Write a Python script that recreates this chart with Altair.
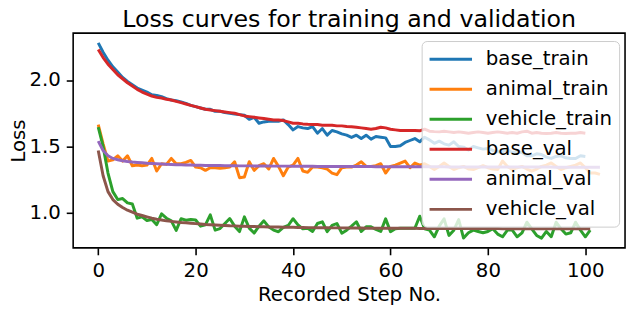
import altair as alt
import pandas as pd

series_names = ["base_train", "animal_train", "vehicle_train", "base_val", "animal_val", "vehicle_val"]
series_colors = ["#1f77b4", "#ff7f0e", "#2ca02c", "#d62728", "#9467bd", "#8c564b"]
x_ticks = [0, 20, 40, 60, 80, 100]
y_ticks = [1.0, 1.5, 2.0]

base_train = [
    2.28, 2.21, 2.15, 2.10, 2.06, 2.02, 1.99, 1.965, 1.94, 1.925,
    1.91, 1.89, 1.885, 1.875, 1.86, 1.85, 1.845, 1.835, 1.825, 1.81,
    1.80, 1.79, 1.78, 1.78, 1.765, 1.765, 1.755, 1.75, 1.745, 1.74,
    1.735, 1.705, 1.72, 1.675, 1.685, 1.69, 1.69, 1.69, 1.70, 1.665,
    1.625, 1.65, 1.64, 1.635, 1.65, 1.60, 1.635, 1.585, 1.62, 1.61,
    1.595, 1.585, 1.568, 1.585, 1.56, 1.585, 1.555, 1.575, 1.57, 1.565,
    1.50, 1.50, 1.505, 1.53, 1.545, 1.56, 1.535, 1.57, 1.55, 1.524,
    1.54, 1.52, 1.51, 1.535, 1.50, 1.495, 1.474, 1.50, 1.49, 1.48,
    1.485, 1.47, 1.46, 1.46, 1.475, 1.455, 1.46, 1.455, 1.43, 1.43,
    1.445, 1.44, 1.42, 1.41, 1.425, 1.43, 1.415, 1.41, 1.41, 1.43,
    1.425,
]

animal_train = [
    1.665, 1.52, 1.39, 1.40, 1.43, 1.39, 1.43, 1.355, 1.36, 1.355,
    1.36, 1.41, 1.315, 1.37, 1.365, 1.41, 1.37, 1.37, 1.38, 1.395,
    1.345, 1.34, 1.32, 1.34, 1.34, 1.335, 1.34, 1.345, 1.385, 1.265,
    1.27, 1.385, 1.32, 1.355, 1.37, 1.33, 1.41, 1.35, 1.28, 1.345,
    1.36, 1.41, 1.315, 1.305, 1.345, 1.345, 1.34, 1.33, 1.30, 1.288,
    1.34, 1.345, 1.345, 1.36, 1.385, 1.35, 1.35, 1.355, 1.37, 1.30,
    1.35, 1.36, 1.375, 1.39, 1.34, 1.375, 1.36, 1.37, 1.35, 1.326,
    1.35, 1.376, 1.35, 1.326, 1.34, 1.35, 1.33, 1.326, 1.34, 1.355,
    1.34, 1.33, 1.326, 1.39, 1.35, 1.326, 1.34, 1.35, 1.33, 1.314,
    1.33, 1.35, 1.36, 1.376, 1.35, 1.326, 1.34, 1.35, 1.36, 1.376,
    1.34, 1.30, 1.30, 1.29,
]

vehicle_train = [
    1.645, 1.50, 1.30, 1.16, 1.10, 1.108, 1.075, 1.067, 0.96, 0.97,
    0.943, 0.95, 0.911, 0.993, 0.96, 0.94, 0.868, 0.956, 0.945, 0.95,
    0.946, 0.90, 0.91, 0.985, 0.87, 0.882, 0.92, 0.958, 0.90, 0.859,
    0.97, 0.885, 0.848, 0.90, 0.94, 0.895, 0.87, 0.858, 0.89, 0.905,
    0.956, 0.91, 0.88, 0.884, 0.86, 0.92, 0.933, 0.859, 0.905, 0.92,
    0.847, 0.87, 0.90, 0.933, 0.86, 0.895, 0.895, 0.875, 0.86, 0.955,
    0.859, 0.88, 0.884, 0.884, 0.885, 0.884, 0.975, 0.88, 0.87, 0.82,
    0.90, 0.955, 0.83, 0.87, 0.95, 0.81, 0.85, 0.87, 0.86, 0.85,
    0.86, 0.88, 0.84, 0.82, 0.87, 0.87, 0.82, 0.85, 0.93, 0.88,
    0.83, 0.81, 0.86, 0.82, 0.93, 0.88, 0.84, 0.85, 0.93, 0.87,
    0.82, 0.87,
]

base_val = [
    2.23, 2.17, 2.12, 2.08, 2.04, 2.01, 1.98, 1.955, 1.93, 1.91,
    1.895, 1.88, 1.87, 1.865, 1.855, 1.85, 1.84, 1.83, 1.82, 1.81,
    1.80, 1.79, 1.78, 1.775, 1.77, 1.765, 1.76, 1.755, 1.75, 1.74,
    1.73, 1.725, 1.72, 1.715, 1.71, 1.705, 1.70, 1.70, 1.695, 1.685,
    1.675, 1.675, 1.67, 1.667, 1.665, 1.665, 1.66, 1.66, 1.66, 1.655,
    1.655, 1.65, 1.648, 1.645, 1.64, 1.635, 1.63, 1.635, 1.645, 1.64,
    1.63, 1.625, 1.62, 1.62, 1.62, 1.62, 1.618, 1.63, 1.615, 1.612,
    1.61, 1.615, 1.61, 1.605, 1.61, 1.605, 1.60, 1.605, 1.61, 1.605,
    1.60, 1.605, 1.61, 1.605, 1.60, 1.605, 1.60, 1.61, 1.615, 1.60,
    1.605, 1.60, 1.598, 1.60, 1.605, 1.60, 1.598, 1.60, 1.60, 1.605,
    1.60,
]

animal_val = [
    1.54, 1.47, 1.43, 1.41, 1.40, 1.393, 1.387, 1.383, 1.38, 1.377,
    1.374, 1.372, 1.37, 1.368, 1.366, 1.365, 1.363, 1.362, 1.361, 1.36,
    1.359, 1.358, 1.357, 1.357, 1.356, 1.356, 1.355, 1.355, 1.355, 1.354,
    1.354, 1.354, 1.353, 1.353, 1.353, 1.353, 1.352, 1.352, 1.352, 1.352,
    1.351, 1.351, 1.351, 1.351, 1.351, 1.350, 1.350, 1.350, 1.350, 1.350,
    1.350, 1.349, 1.349, 1.349, 1.349, 1.349, 1.349, 1.348, 1.348, 1.348,
    1.348, 1.348, 1.348, 1.348, 1.347, 1.347, 1.347, 1.347, 1.347, 1.347,
    1.347, 1.347, 1.346, 1.346, 1.346, 1.346, 1.346, 1.346, 1.346, 1.346,
    1.346, 1.346, 1.345, 1.345, 1.345, 1.345, 1.345, 1.345, 1.345, 1.345,
    1.345, 1.345, 1.345, 1.345, 1.344, 1.344, 1.344, 1.344, 1.344, 1.344,
    1.344, 1.344, 1.344, 1.344,
]

vehicle_val = [
    1.47, 1.28, 1.16, 1.10, 1.065, 1.04, 1.02, 1.005, 0.99, 0.98,
    0.97, 0.96, 0.952, 0.946, 0.94, 0.936, 0.932, 0.928, 0.925, 0.922,
    0.919, 0.916, 0.913, 0.911, 0.909, 0.907, 0.905, 0.903, 0.902, 0.90,
    0.899, 0.898, 0.897, 0.896, 0.895, 0.894, 0.893, 0.893, 0.892, 0.891,
    0.891, 0.890, 0.890, 0.889, 0.889, 0.888, 0.888, 0.888, 0.887, 0.887,
    0.887, 0.886, 0.886, 0.886, 0.886, 0.885, 0.885, 0.885, 0.885, 0.885,
    0.884, 0.884, 0.884, 0.884, 0.884, 0.884, 0.883, 0.883, 0.883, 0.883,
    0.883, 0.883, 0.883, 0.882, 0.882, 0.882, 0.882, 0.882, 0.882, 0.882,
    0.882, 0.882, 0.882, 0.881, 0.881, 0.881, 0.881, 0.881, 0.881, 0.881,
    0.881, 0.881, 0.881, 0.881, 0.881, 0.881, 0.88, 0.88, 0.88, 0.88,
    0.88, 0.88,
]

all_series = [base_train, animal_train, vehicle_train, base_val, animal_val, vehicle_val]

rows = []
for name, vals in zip(series_names, all_series):
    for i, v in enumerate(vals):
        rows.append({"step": i, "loss": v, "series": name})
df = pd.DataFrame(rows)

FONT = "DejaVu Sans"

x_enc = alt.X(
    "step:Q",
    scale=alt.Scale(domain=[-5.15, 108.15], nice=False, zero=False),
    axis=alt.Axis(values=x_ticks, format="d", title="Recorded Step No."),
)
y_enc = alt.Y(
    "loss:Q",
    scale=alt.Scale(domain=[0.7365, 2.3535], nice=False, zero=False),
    axis=alt.Axis(values=y_ticks, format=".1f", title="Loss", titlePadding=0),
)
color_enc = alt.Color(
    "series:N",
    title=None,
    scale=alt.Scale(domain=series_names, range=series_colors),
    legend=alt.Legend(
        orient="none",
        legendX=353,
        legendY=8,
        symbolType="M-2.15,0H2.15",
        symbolSize=400,
        symbolStrokeWidth=3,
        symbolOffset=11,
        labelOffset=24,
        labelFont=FONT,
        labelFontSize=20,
        labelColor="black",
        labelLimit=400,
        rowPadding=8.4,
        padding=7,
        fillColor="rgba(255,255,255,0.8)",
        strokeColor="#cccccc",
        cornerRadius=5,
    ),
)

base = alt.Chart(df)
layers = [
    base.transform_filter(alt.datum.series == name)
    .mark_line(strokeWidth=3, strokeJoin="round")
    .encode(x=x_enc, y=y_enc, color=color_enc)
    for name in series_names
]

chart = (
    alt.layer(*layers)
    .properties(
        width=559,
        height=217.5,
        title=alt.TitleParams(
            text="Loss curves for training and validation",
            font=FONT,
            fontSize=24,
            fontWeight="normal",
            color="black",
            anchor="middle",
            frame="group",
            offset=1,
        ),
        autosize=alt.AutoSizeParams(type="none"),
        padding={"left": 66, "top": 23.5, "right": 3, "bottom": 63},
    )
    .configure_view(stroke="black", strokeWidth=1.6)
    .configure_axis(
        grid=False,
        domain=False,
        tickColor="black",
        tickWidth=1.6,
        tickSize=7,
        labelPadding=6,
        labelFont=FONT,
        labelFontSize=20,
        labelColor="black",
        titleFont=FONT,
        titleFontSize=20,
        titleFontWeight="normal",
        titleColor="black",
    )
)

chart.save("out.html", embed_options={"renderer": "svg", "actions": False})
